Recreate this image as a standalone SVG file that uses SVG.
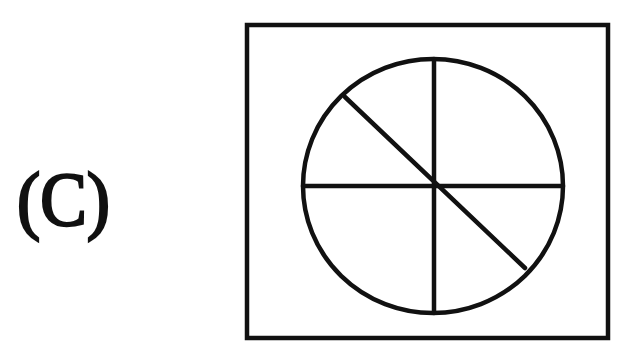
<svg xmlns="http://www.w3.org/2000/svg" width="621" height="341" viewBox="0 0 621 341">
  <style>
    .ln { stroke: #111; stroke-width: 4.5; fill: none; stroke-linecap: round; }
    .lbl { font-family: "Liberation Serif", "Times New Roman", serif; font-weight: normal; fill: #111; stroke: #111; stroke-width: 2.5; }
  </style>
  <rect width="621" height="341" fill="#fff"/>
  <g id="label">
    <text class="lbl" x="17" y="225" font-size="76" textLength="93" lengthAdjust="spacingAndGlyphs">(C)</text>
  </g>
  <g id="frame">
    <rect class="ln" x="247" y="25" width="361" height="313" stroke-width="5"/>
  </g>
  <g id="circle">
    <ellipse class="ln" cx="433" cy="186" rx="130" ry="127"/>
  </g>
  <g id="connectors">
    <line class="ln" x1="434" y1="59" x2="434" y2="313" stroke-width="4"/>
    <line class="ln" x1="303" y1="186" x2="563" y2="186" stroke-width="4"/>
    <line class="ln" x1="345" y1="97" x2="525" y2="268" stroke-width="4"/>
  </g>
</svg>
